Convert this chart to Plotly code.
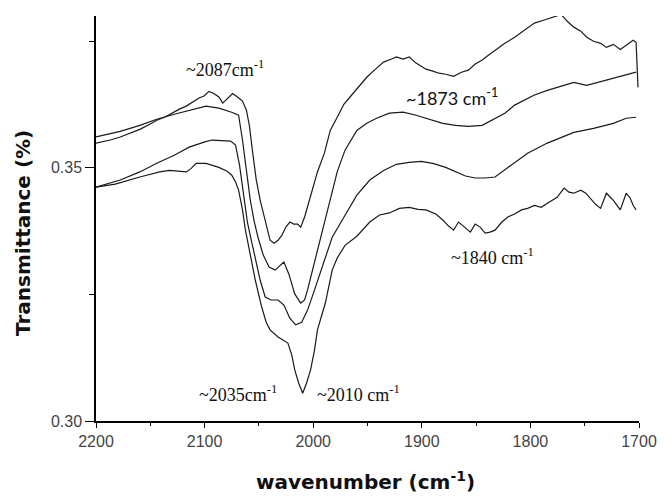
import plotly.graph_objects as go

# ---------------- data (wavenumber cm^-1, transmittance) ----------------
wn_a = [2200, 2186.8, 2177.7, 2168.6, 2159.6, 2150.5, 2144.1, 2136.9, 2130.5, 2123.2,
        2116.9, 2111.4, 2105.1, 2100.5, 2096.0, 2091.5, 2086.9, 2083.3, 2078.8, 2074.2,
        2069.7, 2065.1, 2061.5, 2058.8, 2056.0, 2052.4, 2048.8, 2044.2, 2039.7, 2036.0,
        2032.4, 2028.8, 2025.2, 2021.5, 2017.9, 2014.3, 2011.5, 2007.9, 2004.3, 2000.6,
        1996.1, 1989.7, 1984.3, 1977.9, 1971.6, 1966.1, 1957.9, 1950.7, 1941.6, 1935.2,
        1927.9, 1923.4, 1917.1, 1911.6, 1905.3, 1896.2, 1889.8, 1884.4, 1878.0, 1870.7,
        1863.5, 1857.1, 1850.8, 1844.4, 1839.0, 1832.6, 1823.5, 1814.5, 1805.4, 1796.3,
        1787.2, 1778.1, 1771.7, 1766.3, 1760.0, 1753.6, 1748.1, 1741.8, 1735.4, 1730.0,
        1723.6, 1717.2, 1711.8, 1705.4, 1702.7, 1700.9]
t_a = [0.3549, 0.3555, 0.3561, 0.3569, 0.3576, 0.3586, 0.3594, 0.3600, 0.3608, 0.3616,
       0.3622, 0.3630, 0.3638, 0.3642, 0.3651, 0.3647, 0.3640, 0.3628, 0.3638, 0.3647,
       0.3640, 0.3632, 0.3614, 0.3584, 0.3535, 0.3476, 0.3436, 0.3393, 0.3357, 0.3351,
       0.3357, 0.3367, 0.3383, 0.3393, 0.3389, 0.3389, 0.3383, 0.3403, 0.3430, 0.3456,
       0.3492, 0.3529, 0.3574, 0.3600, 0.3626, 0.3640, 0.3661, 0.3679, 0.3697, 0.3709,
       0.3715, 0.3719, 0.3715, 0.3719, 0.3707, 0.3695, 0.3691, 0.3687, 0.3685, 0.3681,
       0.3689, 0.3693, 0.3705, 0.3713, 0.3722, 0.3732, 0.3746, 0.3758, 0.3772, 0.3786,
       0.3792, 0.3798, 0.3803, 0.3790, 0.3778, 0.3770, 0.3758, 0.3750, 0.3746, 0.3738,
       0.3744, 0.3734, 0.3742, 0.3752, 0.3748, 0.3659]

wn_b = [2200, 2177.7, 2159.6, 2144.1, 2127.9, 2114.2, 2105.1, 2098.7, 2086.9, 2075.1,
        2068.7, 2065.1, 2061.5, 2057.9, 2054.2, 2050.6, 2046.0, 2040.6, 2035.1, 2030.6,
        2027.0, 2022.4, 2017.0, 2011.5, 2007.9, 2005.2, 2000.6, 1994.3, 1988.8, 1984.3,
        1977.9, 1970.7, 1959.8, 1950.7, 1941.6, 1929.8, 1917.1, 1905.3, 1893.5, 1880.7,
        1868.9, 1857.1, 1844.4, 1832.6, 1823.5, 1814.5, 1805.4, 1796.3, 1784.4, 1778.1,
        1769.0, 1760.0, 1748.1, 1737.2, 1730.0, 1719.1, 1711.8, 1702.7]
t_b = [0.3561, 0.3572, 0.3584, 0.3596, 0.3606, 0.3614, 0.3618, 0.3622, 0.3618, 0.3610,
       0.3604, 0.3555, 0.3495, 0.3436, 0.3393, 0.3361, 0.3328, 0.3304, 0.3298, 0.3308,
       0.3314, 0.3290, 0.3251, 0.3233, 0.3239, 0.3259, 0.3298, 0.3353, 0.3403, 0.3436,
       0.3492, 0.3535, 0.3574, 0.3588, 0.3598, 0.3608, 0.3610, 0.3604, 0.3596, 0.3588,
       0.3584, 0.3582, 0.3584, 0.3598, 0.3608, 0.3624, 0.3634, 0.3644, 0.3653, 0.3657,
       0.3663, 0.3669, 0.3663, 0.3669, 0.3673, 0.3679, 0.3683, 0.3689]

wn_c = [2200, 2177.7, 2159.6, 2144.1, 2127.9, 2114.2, 2100.5, 2093.3, 2076.0, 2071.5,
        2067.8, 2064.2, 2060.6, 2057.0, 2053.3, 2048.8, 2044.2, 2038.8, 2032.4, 2027.0,
        2021.5, 2016.1, 2010.6, 2005.2, 1999.7, 1994.3, 1982.5, 1971.6, 1959.8, 1947.9,
        1935.2, 1923.4, 1911.6, 1900.7, 1889.8, 1878.0, 1868.9, 1859.8, 1850.8, 1841.7,
        1832.6, 1820.8, 1802.6, 1784.4, 1760.0, 1741.8, 1723.6, 1711.8, 1702.7]
t_c = [0.3462, 0.3476, 0.3492, 0.3509, 0.3525, 0.3541, 0.3551, 0.3555, 0.3553, 0.3545,
       0.3505, 0.3446, 0.3393, 0.3357, 0.3322, 0.3278, 0.3245, 0.3239, 0.3239, 0.3229,
       0.3203, 0.3190, 0.3195, 0.3219, 0.3253, 0.3288, 0.3363, 0.3403, 0.3446, 0.3476,
       0.3495, 0.3507, 0.3511, 0.3513, 0.3509, 0.3501, 0.3492, 0.3484, 0.3480, 0.3480,
       0.3482, 0.3501, 0.3529, 0.3549, 0.3570, 0.3578, 0.3588, 0.3598, 0.3600]

wn_d = [2200, 2182.3, 2159.6, 2141.4, 2132.3, 2123.2, 2116.9, 2112.3, 2107.8, 2098.7,
        2091.5, 2086.9, 2079.7, 2075.1, 2071.5, 2068.7, 2065.1, 2062.4, 2057.9, 2053.3,
        2047.9, 2043.3, 2039.7, 2032.4, 2023.3, 2019.7, 2017.0, 2013.4, 2009.7, 2006.1,
        2002.4, 1998.8, 1996.1, 1988.8, 1982.5, 1977.9, 1970.7, 1959.8, 1947.9, 1938.9,
        1929.8, 1920.7, 1911.6, 1903.4, 1896.2, 1887.1, 1880.7, 1875.3, 1870.7, 1866.2,
        1861.7, 1855.3, 1850.8, 1846.3, 1841.7, 1837.2, 1832.6, 1826.3, 1820.8, 1814.5,
        1808.1, 1802.6, 1796.3, 1790.0, 1784.4, 1779.9, 1775.4, 1769.0, 1764.5, 1760.0,
        1753.6, 1749.0, 1744.5, 1740.0, 1735.4, 1730.0, 1726.4, 1723.6, 1717.2, 1711.8,
        1708.1, 1705.4, 1702.7]
t_d = [0.3462, 0.3468, 0.3482, 0.3492, 0.3495, 0.3494, 0.3492, 0.3499, 0.3509, 0.3509,
       0.3505, 0.3501, 0.3494, 0.3486, 0.3472, 0.3456, 0.3417, 0.3377, 0.3328, 0.3278,
       0.3229, 0.3195, 0.3180, 0.3166, 0.3154, 0.3130, 0.3101, 0.3075, 0.3055, 0.3075,
       0.3101, 0.3140, 0.3180, 0.3233, 0.3298, 0.3322, 0.3347, 0.3365, 0.3393, 0.3407,
       0.3411, 0.3420, 0.3422, 0.3418, 0.3417, 0.3409, 0.3397, 0.3385, 0.3377, 0.3393,
       0.3385, 0.3373, 0.3389, 0.3383, 0.3371, 0.3373, 0.3377, 0.3393, 0.3403, 0.3409,
       0.3417, 0.3420, 0.3426, 0.3422, 0.3430, 0.3436, 0.3442, 0.3460, 0.3452, 0.3450,
       0.3456, 0.3450, 0.3440, 0.3428, 0.3420, 0.3450, 0.3442, 0.3436, 0.3417, 0.3450,
       0.3440, 0.3426, 0.3417]

x_ticks = [2200, 2100, 2000, 1900, 1800, 1700]
x_tick_labels = ["2200", "2100", "2000", "1900", "1800", "1700"]
y_ticks = [0.30, 0.35]
y_tick_labels = ["0.30", "0.35"]

# peak labels: (text, wavenumber, transmittance, font)
peak_labels = [
    ("~2087cm<sup>-1</sup>", 2081.3, 0.3697, "Liberation Serif"),
    ("~1873 cm<sup>-1</sup>", 1872.6, 0.3640, "Lato"),
    ("~1840 cm<sup>-1</sup>", 1835.3, 0.3324, "Liberation Serif"),
    ("~2035cm<sup>-1</sup>", 2068.8, 0.3055, "Liberation Serif"),
    ("~2010 cm<sup>-1</sup>", 1957.9, 0.3055, "Liberation Serif"),
]

# ---------------- figure ----------------
fig = go.Figure()
line_style = dict(color="#1a1a1a", width=1.2)
for wn, t in [(wn_a, t_a), (wn_b, t_b), (wn_c, t_c), (wn_d, t_d)]:
    fig.add_trace(go.Scatter(x=wn, y=t, mode="lines", line=line_style,
                             showlegend=False, hoverinfo="skip"))

annotations = []
for text, x, y, fam in peak_labels:
    annotations.append(dict(text=text, x=x, y=y, xref="x", yref="y",
                            showarrow=False, xanchor="center", yanchor="middle",
                            font=dict(family=fam, size=18, color="#111")))

annotations.append(dict(text="<b>Transmittance (%)</b>", textangle=-90,
                        xref="paper", yref="paper", x=-0.1335, y=0.463,
                        xanchor="center", yanchor="middle", showarrow=False,
                        font=dict(family="DejaVu Sans", size=20, color="#111")))
annotations.append(dict(text="<b>wavenumber (cm<sup>-1</sup>)</b>",
                        xref="paper", yref="paper", x=0.497, y=-0.148,
                        xanchor="center", yanchor="middle", showarrow=False,
                        font=dict(family="DejaVu Sans", size=20, color="#111")))

# the page body has an 8px margin, so the figure is sized/offset to compensate
fig.update_layout(
    width=657, height=488,
    margin=dict(l=87.5, r=19, t=8, b=75),
    paper_bgcolor="white", plot_bgcolor="white",
    annotations=annotations,
    xaxis=dict(range=[2200, 1700], tickmode="array", tickvals=x_ticks,
               ticktext=x_tick_labels, ticks="outside", ticklen=5, tickwidth=1.3,
               tickcolor="black", showline=True, linecolor="black", linewidth=1.5,
               showgrid=False, zeroline=False,
               tickfont=dict(family="Liberation Sans", size=16, color="#444"),
               minor=dict(tick0=2200, dtick=50, ticks="outside", ticklen=3,
                          tickwidth=1.2, tickcolor="black", showgrid=False)),
    yaxis=dict(range=[0.30, 0.38], tickmode="array", tickvals=y_ticks,
               ticktext=y_tick_labels, ticks="outside", ticklen=9, tickwidth=1.3,
               tickcolor="black", showline=True, linecolor="black", linewidth=1.5,
               showgrid=False, zeroline=False,
               tickfont=dict(family="Liberation Sans", size=16, color="#444"),
               minor=dict(tick0=0.30, dtick=0.025, ticks="outside", ticklen=5,
                          tickwidth=1.2, tickcolor="black", showgrid=False)),
)

fig.write_html("out.html")
